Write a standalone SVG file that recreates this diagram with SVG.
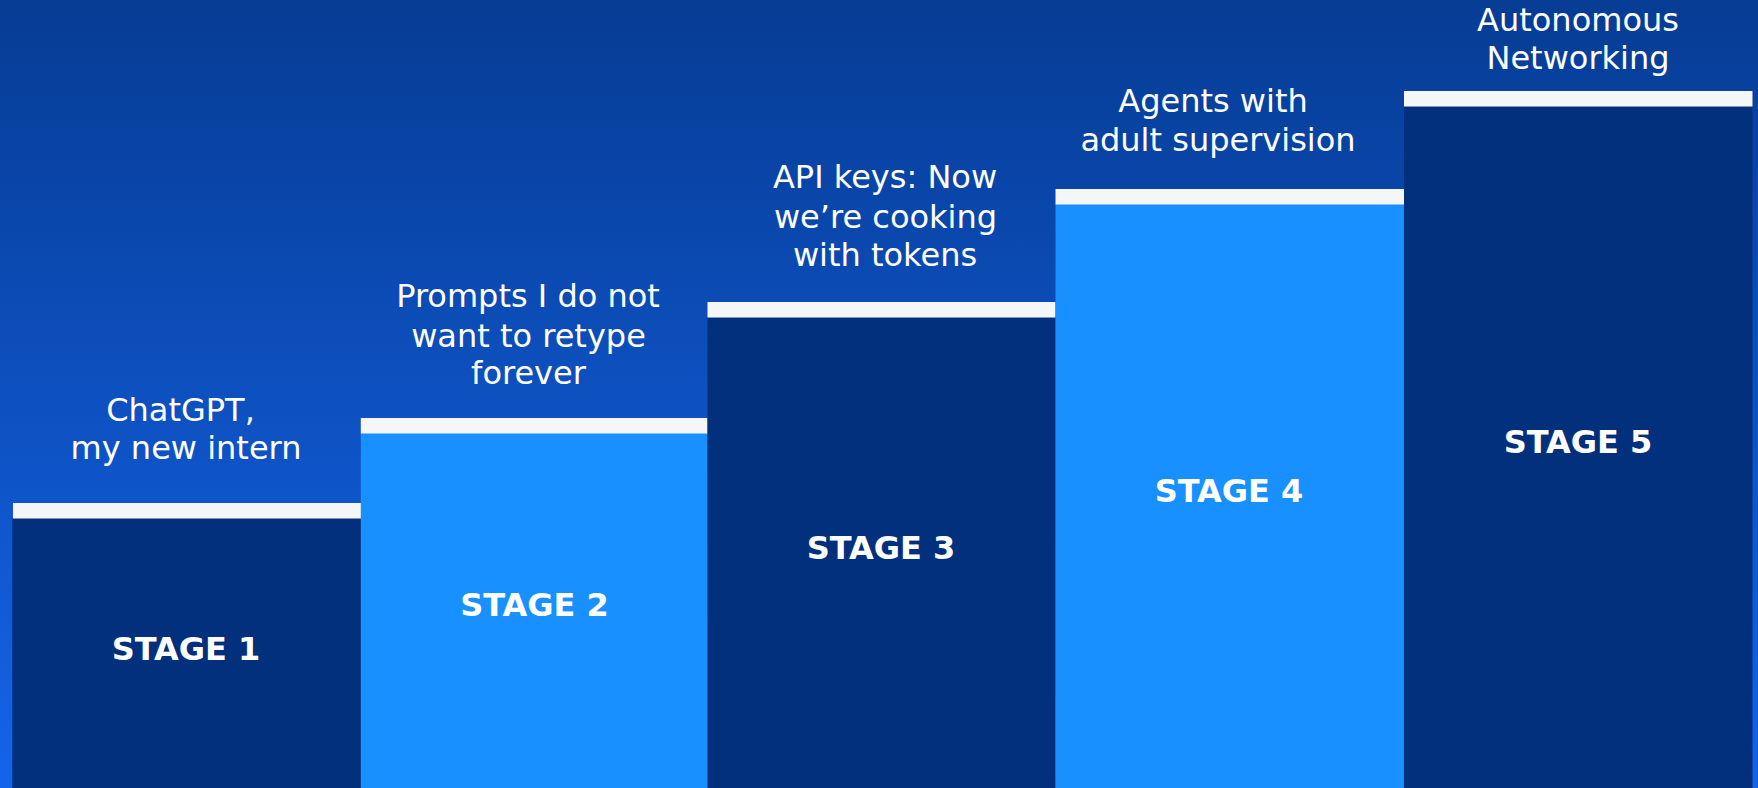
<svg xmlns="http://www.w3.org/2000/svg" width="1758" height="788" viewBox="0 0 1758 788">
<style>
.lab{font-family:"DejaVu Sans",sans-serif;font-size:32px;fill:#fff;text-anchor:middle}
.st{font-family:"DejaVu Sans",sans-serif;font-size:32px;font-weight:700;fill:#fff;text-anchor:middle}
.cap{fill:#f5f6f8}
.dark{fill:#02307c}
.lite{fill:#1890ff}
</style>
<defs><linearGradient id="bg" x1="0" y1="0" x2="0" y2="788" gradientUnits="userSpaceOnUse"><stop offset="0" stop-color="#063c94"/><stop offset="1" stop-color="#1464ea"/></linearGradient></defs>
<rect width="1758" height="788" fill="url(#bg)"/>
<g id="stage1"><rect class="dark" x="12.3" y="518" width="349" height="270"/><rect class="cap" x="13" y="503" width="348" height="15.500"/>
<text class="lab" x="180.500" y="421">ChatGPT,</text><text class="lab" x="186" y="459">my new intern</text><text class="st" x="186" y="660">STAGE 1</text></g>
<g id="stage2"><rect class="lite" x="360.800" y="433" width="346.700" height="355"/><rect class="cap" x="360.800" y="418" width="346.700" height="15.500"/>
<text class="lab" x="528" y="307">Prompts I do not</text><text class="lab" x="528.500" y="347">want to retype</text><text class="lab" x="528.500" y="384">forever</text><text class="st" x="534.500" y="616">STAGE 2</text></g>
<g id="stage3"><rect class="dark" x="707.500" y="317.500" width="348" height="470.500"/><rect class="cap" x="707.500" y="302" width="348" height="15.500"/>
<text class="lab" x="885" y="188">API keys: Now</text><text class="lab" x="885.500" y="228">we’re cooking</text><text class="lab" x="885" y="266">with tokens</text><text class="st" x="881" y="559">STAGE 3</text></g>
<g id="stage4"><rect class="lite" x="1055.500" y="204" width="348.500" height="584"/><rect class="cap" x="1055.500" y="189" width="348.500" height="15.500"/>
<text class="lab" x="1213" y="112">Agents with</text><text class="lab" x="1218" y="151">adult supervision</text><text class="st" x="1229" y="502">STAGE 4</text></g>
<g id="stage5"><rect class="dark" x="1404" y="106.500" width="348.500" height="681.500"/><rect class="cap" x="1404" y="91" width="348.500" height="15.500"/>
<text class="lab" x="1578" y="31">Autonomous</text><text class="lab" x="1578" y="69">Networking</text><text class="st" x="1578" y="453">STAGE 5</text></g>
</svg>
